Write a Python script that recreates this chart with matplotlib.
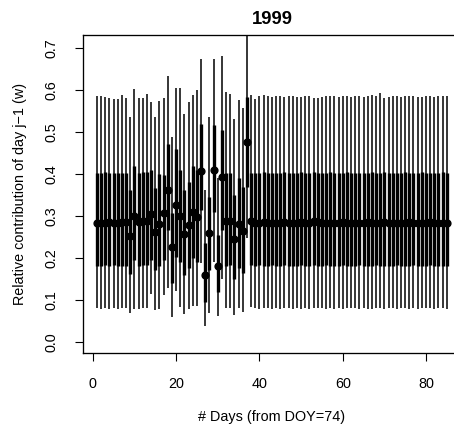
import matplotlib
matplotlib.use("Agg")
import matplotlib.pyplot as plt
import numpy as np

plt.rcParams['font.family'] = ['Liberation Sans', 'DejaVu Sans']

# days 1..85 (from DOY=74)
days = list(range(1, 86))

# posterior median of w for each day
w_med = [0.284, 0.284, 0.284, 0.285, 0.284, 0.284, 0.285, 0.285, 0.252, 0.300,
         0.285, 0.287, 0.288, 0.305, 0.261, 0.281, 0.308, 0.362, 0.225, 0.326,
         0.300, 0.256, 0.279, 0.310, 0.298, 0.407, 0.160, 0.259, 0.410, 0.181,
         0.394, 0.288, 0.288, 0.245, 0.281, 0.265, 0.477, 0.287,
         0.284, 0.284, 0.285, 0.284, 0.284, 0.283, 0.284, 0.285, 0.284, 0.284,
         0.284, 0.285, 0.284, 0.284, 0.287, 0.285, 0.284, 0.284, 0.283, 0.284,
         0.284, 0.285, 0.284, 0.284, 0.284, 0.283, 0.284, 0.285, 0.284, 0.284,
         0.284, 0.285, 0.284, 0.284, 0.283, 0.284, 0.284, 0.285, 0.284, 0.284,
         0.284, 0.284, 0.285, 0.284, 0.284, 0.284, 0.284]

# 50% interval
w_lo50 = [0.182, 0.182, 0.183, 0.182, 0.183, 0.182, 0.182, 0.182, 0.163, 0.195,
          0.182, 0.183, 0.183, 0.195, 0.171, 0.181, 0.195, 0.267, 0.140, 0.203,
          0.190, 0.160, 0.175, 0.200, 0.190, 0.314, 0.096, 0.171, 0.310, 0.120,
          0.267, 0.182, 0.183, 0.150, 0.175, 0.165, 0.370, 0.183,
          0.182, 0.183, 0.182, 0.182, 0.183, 0.182, 0.182, 0.183, 0.182, 0.182,
          0.182, 0.183, 0.182, 0.182, 0.184, 0.182, 0.182, 0.183, 0.182, 0.182,
          0.182, 0.183, 0.182, 0.182, 0.182, 0.183, 0.182, 0.182, 0.182, 0.183,
          0.182, 0.182, 0.182, 0.182, 0.183, 0.182, 0.182, 0.182, 0.183, 0.182,
          0.182, 0.182, 0.183, 0.182, 0.182, 0.182, 0.182]
w_hi50 = [0.403, 0.402, 0.404, 0.403, 0.402, 0.403, 0.403, 0.402, 0.362, 0.419,
          0.403, 0.404, 0.405, 0.410, 0.366, 0.400, 0.398, 0.471, 0.307, 0.460,
          0.410, 0.362, 0.380, 0.418, 0.410, 0.520, 0.235, 0.346, 0.517, 0.255,
          0.505, 0.402, 0.403, 0.350, 0.390, 0.370, 0.584, 0.403,
          0.403, 0.402, 0.404, 0.403, 0.403, 0.402, 0.403, 0.404, 0.403, 0.402,
          0.403, 0.404, 0.403, 0.402, 0.405, 0.403, 0.402, 0.403, 0.404, 0.403,
          0.402, 0.403, 0.404, 0.403, 0.403, 0.402, 0.403, 0.403, 0.404, 0.403,
          0.402, 0.404, 0.403, 0.402, 0.403, 0.403, 0.404, 0.403, 0.402, 0.403,
          0.404, 0.403, 0.402, 0.403, 0.403, 0.404, 0.403]

# 95% interval
w_lo95 = [0.080, 0.079, 0.080, 0.079, 0.080, 0.079, 0.080, 0.080, 0.068, 0.079,
          0.079, 0.080, 0.081, 0.114, 0.076, 0.079, 0.112, 0.128, 0.060, 0.122,
          0.084, 0.066, 0.078, 0.085, 0.085, 0.187, 0.038, 0.070, 0.190, 0.062,
          0.150, 0.080, 0.080, 0.064, 0.080, 0.072, 0.247, 0.084,
          0.080, 0.079, 0.081, 0.080, 0.078, 0.080, 0.079, 0.080, 0.081, 0.079,
          0.080, 0.078, 0.080, 0.079, 0.080, 0.081, 0.080, 0.079, 0.080, 0.078,
          0.080, 0.079, 0.080, 0.081, 0.080, 0.079, 0.080, 0.079, 0.078, 0.080,
          0.080, 0.079, 0.081, 0.080, 0.079, 0.080, 0.080, 0.078, 0.080, 0.079,
          0.080, 0.081, 0.080, 0.079, 0.080, 0.080, 0.079]
w_hi95 = [0.586, 0.585, 0.583, 0.582, 0.578, 0.578, 0.588, 0.580, 0.535, 0.602,
          0.581, 0.582, 0.590, 0.571, 0.536, 0.574, 0.582, 0.633, 0.487, 0.605,
          0.605, 0.544, 0.571, 0.588, 0.600, 0.675, 0.362, 0.536, 0.675, 0.390,
          0.681, 0.596, 0.590, 0.530, 0.576, 0.558, 0.800, 0.588,
          0.579, 0.586, 0.587, 0.586, 0.584, 0.585, 0.586, 0.584, 0.585, 0.586,
          0.584, 0.583, 0.585, 0.586, 0.580, 0.581, 0.584, 0.585, 0.586, 0.585,
          0.584, 0.586, 0.585, 0.584, 0.585, 0.586, 0.584, 0.585, 0.587, 0.586,
          0.592, 0.580, 0.584, 0.585, 0.586, 0.584, 0.585, 0.586, 0.585, 0.583,
          0.584, 0.586, 0.585, 0.584, 0.586, 0.585, 0.586]

W, H = 454, 430
fig = plt.figure(figsize=(W / 100, H / 100), dpi=100)
# plot region in pixels (right side is cut off like in the original)
left, right, top, bottom = 83, 460.8, 35, 353.3
ax = fig.add_axes([left / W, (H - bottom) / H, (right - left) / W, (bottom - top) / H])

ax.vlines(days, w_lo95, w_hi95, color='black', linewidth=1.1)
ax.vlines(days, w_lo50, w_hi50, color='black', linewidth=2.4)
ax.plot(days, w_med, 'o', color='black', markersize=4.9, linestyle='none')

ax.set_xlim(-2.36, 88.36)
ax.set_ylim(-0.027, 0.731)
ax.set_xticks([0, 20, 40, 60, 80])
ax.set_yticks(np.arange(0, 0.75, 0.1))
ax.set_yticklabels([f'{v:.1f}' for v in np.arange(0, 0.75, 0.1)])

for s in ax.spines.values():
    s.set_linewidth(0.95)
ax.tick_params(axis='both', direction='out', length=6, width=0.8, labelsize=10.4)
ax.tick_params(axis='x', pad=10.8)
ax.tick_params(axis='y', pad=16.8)
plt.setp(ax.get_yticklabels(), rotation=90, va='center', ha='center')

ax.set_title('1999', fontsize=13.3, fontweight='bold', y=1.049, va='center', pad=0)
ax.set_xlabel('# Days (from DOY=74)', fontsize=10.4, va='center')
ax.xaxis.set_label_coords(0.5, -0.199)
ax.set_ylabel('Relative contribution of day j\u22121 (w)', fontsize=10.4, va='center')
ax.yaxis.set_label_coords(-0.1668, 0.5)

fig.savefig('out.png', dpi=100)
